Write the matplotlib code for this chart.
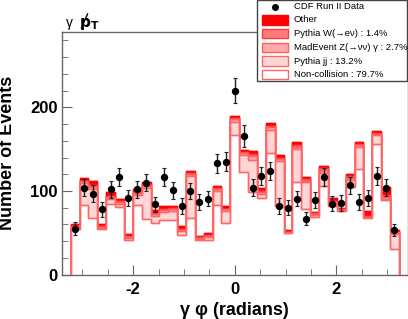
import numpy as np
import matplotlib
matplotlib.use("Agg")
import matplotlib.pyplot as plt
from matplotlib.patches import Rectangle
from matplotlib.lines import Line2D

plt.rcParams['font.family'] = ['Liberation Sans', 'DejaVu Sans']
plt.rcParams['axes.unicode_minus'] = False

# photon phi binning: 37 bins of 10 degrees centred on 0
n_bins = 37
bin_width = 2 * np.pi / 36
edges = (np.arange(n_bins + 1) - n_bins / 2.0) * bin_width
centers = 0.5 * (edges[1:] + edges[:-1])

# CDF data
data = [55, 104, 97, 78, 102, 117, 92, 102, 110, 84, 117, 101, 82, 100, 87, 91, 133, 135, 220,
        166, 104, 118, 124, 82, 80, 91, 67, 89, 117, 85, 86, 107, 87, 92, 118, 104, 53]
data_err = [7.4, 10.2, 9.8, 8.8, 10.1, 10.8, 9.6, 10.1, 10.5, 9.2, 10.8, 10.0, 9.1, 10.0, 9.3, 9.5,
            11.5, 11.6, 14.8, 12.9, 10.2, 10.9, 11.1, 9.1, 8.9, 9.5, 8.2, 9.4, 10.8, 9.2, 9.3, 10.3,
            9.3, 9.6, 10.9, 10.2, 7.3]

# background components (stacked, bottom to top)
noncoll = [55, 83, 68, 55, 84, 80.5, 42, 83, 66.5, 62, 65, 65, 47.5, 67.5, 42, 41.5, 83.5, 62, 167.5,
           122.5, 98.5, 91.5, 145, 81.5, 49.5, 111, 79, 69.5, 106, 82, 76.5, 104.5, 126, 67.5, 156, 89, 30.5]
pythia_jj = [1, 26.5, 34, 1, 6, 4.5, 1.5, 12.5, 37.5, 8.5, 10, 11.5, 5, 50.5, 0.5, 3, 17, 14, 15,
             20, 39, 5, 28, 54.5, 0.5, 39, 31.5, 2, 16, 2.8, 0.7, 9, 26, 0.5, 10.5, 2, 18]
madevent_zg = [1.5, 2, 3, 1, 2.5, 2, 1, 2, 2.5, 2, 2, 2, 1.5, 2.5, 1, 2, 2, 2, 3,
               2.5, 4, 2, 3, 2.5, 0.5, 3, 2, 1, 3, 2, 0.5, 2.5, 2.5, 1, 2, 2, 2]
pythia_wen = [1, 1, 2.5, 1, 2, 1.5, 1.5, 1.5, 1.5, 1.5, 1.5, 1, 1, 1.5, 1, 1.5, 1.5, 1, 1.5,
              1.5, 3, 2, 2, 1.5, 0.5, 2, 1.5, 1, 2, 1.5, 0.5, 1.5, 1.5, 1, 1, 2, 1]
other = [2.5, 2.5, 5, 2, 4, 2, 3, 3, 2.5, 3, 3, 2.5, 3, 2.5, 2, 2, 2.5, 2.5, 3,
         3, 3, 3, 3, 2.5, 2, 3, 2.5, 2, 3, 3, 2, 3, 2.5, 6, 2, 10, 2]

components = [noncoll, pythia_jj, madevent_zg, pythia_wen, other]
fills = ['white', '#ffd6d6', '#ffabab', '#ff7a7a', '#ff0000']
lines = ['#ff6666', '#ff6666', '#ff6060', '#ff4040', '#ff0000']
labels = ['Non-collision : 79.7%', 'Pythia jj : 13.2%', u'MadEvent Z(\u2192\u03bd\u03bd) \u03b3 : 2.7%',
          u'Pythia W(\u2192e\u03bd) : 1.4%', 'Other']

W, H = 408, 319
fig = plt.figure(figsize=(W / 100, H / 100), dpi=100)
ax = fig.add_axes([62 / W, 44.3 / H, 345.6 / W, 242.7 / H])

stack = np.cumsum(np.array(components, dtype=float), axis=0)
for k in range(len(components) - 1, -1, -1):
    ax.stairs(stack[k], edges, baseline=0, fill=True, facecolor=fills[k], edgecolor=lines[k], lw=1.0)
    ax.stairs(stack[k], edges, baseline=0, fill=False, color=lines[k], lw=1.0)

ax.errorbar(centers, data, yerr=data_err, fmt='o', color='black', ms=4.3, elinewidth=1.0,
            ecolor='#222222', capsize=1.3, capthick=0.8, zorder=5)

ax.set_xlim(-3.4, 3.4)
ax.set_ylim(0, 290)
ax.set_xticks([-2, 0, 2])
ax.set_xticks(np.arange(-3, 3.01, 0.5), minor=True)
ax.set_yticks([0, 100, 200])
ax.set_yticks(np.arange(0, 290, 20), minor=True)
for s in ax.spines.values():
    s.set_color('#666666')
    s.set_linewidth(1.0)
ax.tick_params(which='both', direction='in', colors='#666666', top=False, right=False,
               labelcolor='black', labelsize=12)
ax.tick_params(which='major', length=7)
ax.tick_params(which='minor', length=4)
ax.tick_params(axis='x', pad=5)
ax.tick_params(axis='y', pad=3)
for t in ax.get_xticklabels() + ax.get_yticklabels():
    t.set_fontweight('bold')

ax.set_ylabel('Number of Events', fontsize=13, fontweight='bold', labelpad=10)
ax.set_xlabel(u'\u03b3 \u03c6 (radians)', fontsize=13, fontweight='bold', labelpad=4)


def px(x, y):
    # pixel position (from top-left) -> figure fraction
    return x / W, 1 - y / H


# title: gamma + missing pT
fig.text(*px(66, 27), u'\u03b3', fontsize=10, va='baseline', ha='left')
fig.text(*px(79, 27), r'$\mathbf{p}_\mathbf{T}$', fontsize=11, va='baseline', ha='left')
x0, y0 = px(81.5, 28)
x1, y1 = px(87.5, 14)
fig.add_artist(Line2D([x0, x1], [y0, y1], color='black', lw=1.0, transform=fig.transFigure))

# legend drawn by hand to match the ROOT box
bx0, by0 = px(256.5, 81)
bx1, by1 = px(407, 0.5)
fig.add_artist(Rectangle((bx0, by0), bx1 - bx0, by1 - by0, transform=fig.transFigure,
                         facecolor='white', edgecolor='#444444', lw=1.0, zorder=10))
row_y = [6.5, 20, 33.7, 47.3, 61, 74.5]
leg_labels = ['CDF Run II Data'] + labels[::-1]
mx, my = px(275, row_y[0])
fig.add_artist(Line2D([mx], [my], marker='o', color='black', ms=4, transform=fig.transFigure, zorder=11))
for i in range(1, 6):
    k = len(components) - i
    sx, sy = px(262, row_y[i] + 4.5)
    sx1, sy1 = px(288, row_y[i] - 4.5)
    fig.add_artist(Rectangle((sx, sy), sx1 - sx, sy1 - sy, transform=fig.transFigure,
                             facecolor=fills[k], edgecolor=lines[k], lw=1.0, zorder=11))
for i, lab in enumerate(leg_labels):
    fig.text(*px(294, row_y[i]), lab, fontsize=6.8, va='center', ha='left', zorder=12)

fig.savefig('out.png', dpi=100)
